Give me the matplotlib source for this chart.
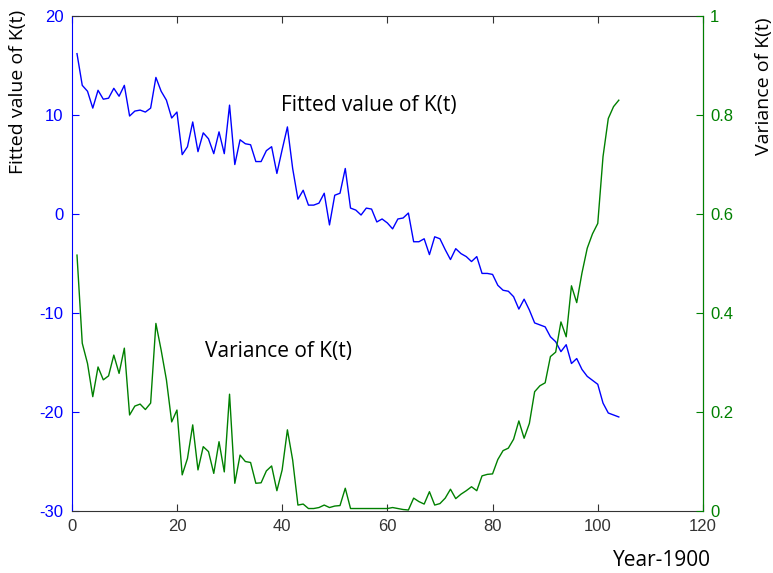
import matplotlib.pyplot as plt

plt.rcParams['axes.unicode_minus'] = False

# years since 1900
years = list(range(1, 105))

# fitted value of K(t), left axis
fitted = [16.2, 13.0, 12.4, 10.7, 12.5, 11.6, 11.7, 12.7, 11.9, 13.0,
          9.9, 10.4, 10.5, 10.3, 10.7, 13.8, 12.4, 11.5, 9.7, 10.3,
          6.0, 6.8, 9.3, 6.3, 8.2, 7.6, 6.1, 8.3, 6.1, 11.0,
          5.0, 7.5, 7.1, 7.0, 5.3, 5.3, 6.4, 6.8, 4.1, 6.5,
          8.8, 4.6, 1.5, 2.4, 0.9, 0.9, 1.1, 2.1, -1.1, 1.9,
          2.1, 4.6, 0.6, 0.4, -0.1, 0.6, 0.5, -0.8, -0.5, -0.9,
          -1.5, -0.5, -0.4, 0.1, -2.8, -2.8, -2.5, -4.1, -2.3, -2.5,
          -3.6, -4.6, -3.5, -4.0, -4.3, -4.8, -4.3, -6.0, -6.0, -6.1,
          -7.2, -7.7, -7.8, -8.35, -9.6, -8.6, -9.7, -11.0, -11.2, -11.4,
          -12.4, -12.9, -13.9, -13.2, -15.1, -14.6, -15.7, -16.4, -16.8, -17.2,
          -19.1, -20.1, -20.3, -20.5]

# variance of K(t), right axis
variance = [0.517, 0.339, 0.298, 0.231, 0.291, 0.265, 0.273, 0.315, 0.278, 0.329,
            0.194, 0.212, 0.216, 0.205, 0.218, 0.379, 0.325, 0.265, 0.180, 0.204,
            0.073, 0.106, 0.174, 0.083, 0.130, 0.120, 0.076, 0.140, 0.079, 0.236,
            0.056, 0.113, 0.100, 0.098, 0.056, 0.057, 0.081, 0.091, 0.041, 0.083,
            0.164, 0.103, 0.012, 0.014, 0.005, 0.005, 0.007, 0.012, 0.007, 0.010,
            0.011, 0.046, 0.005, 0.005, 0.005, 0.005, 0.005, 0.005, 0.005, 0.005,
            0.007, 0.005, 0.003, 0.002, 0.026, 0.019, 0.014, 0.039, 0.012, 0.015,
            0.026, 0.044, 0.025, 0.034, 0.041, 0.049, 0.041, 0.071, 0.074, 0.075,
            0.104, 0.122, 0.127, 0.145, 0.182, 0.147, 0.177, 0.241, 0.253, 0.259,
            0.312, 0.321, 0.382, 0.352, 0.455, 0.421, 0.481, 0.531, 0.560, 0.581,
            0.716, 0.793, 0.817, 0.830]

blue = '#0000ff'
green = '#008000'
tickfont = 'Liberation Sans'
labelfont = 'Open Sans'

fig = plt.figure(figsize=(7.73, 5.73), dpi=100)
ax = fig.add_axes([0.0928, 0.1082, 0.8166, 0.8638])
ax2 = ax.twinx()

ax.plot(years, fitted, color=blue, lw=1)
ax2.plot(years, variance, color=green, lw=1)

ax.set_xlim(0, 120)
ax.set_ylim(-30, 20)
ax2.set_ylim(0, 1)
ax.set_xticks(range(0, 121, 20))
ax.set_yticks(range(-30, 21, 10))
ax2.set_yticks([0, 0.2, 0.4, 0.6, 0.8, 1])
ax2.set_yticklabels(['0', '0.2', '0.4', '0.6', '0.8', '1'])

ax.tick_params(axis='x', direction='in', length=5, top=True, colors='#333333',
               labelsize=12, pad=6)
ax.tick_params(axis='y', direction='in', length=5, colors=blue, labelsize=12, pad=6)
ax2.tick_params(axis='y', direction='in', length=5, colors=green, labelsize=12, pad=5)
for lab in ax.get_xticklabels() + ax.get_yticklabels() + ax2.get_yticklabels():
    lab.set_family(tickfont)

ax.spines['left'].set_color(blue)
ax.spines['bottom'].set_color('#333333')
ax.spines['top'].set_color('#333333')
ax2.spines['right'].set_color(green)
ax2.spines['left'].set_visible(False)
ax2.spines['top'].set_visible(False)
ax2.spines['bottom'].set_visible(False)

# axis titles sit near the top corners, as in the original
fig.text(18 / 773, 1 - 92 / 573, 'Fitted value of K(t)', fontsize=14, family=labelfont,
         rotation=90, ha='center', va='center')
fig.text(764 / 773, 1 - 86 / 573, 'Variance of K(t)', fontsize=14, family=labelfont,
         rotation=90, ha='center', va='center')
fig.text(662 / 773, 1 - 560 / 573, 'Year-1900', fontsize=15, family=labelfont,
         ha='center', va='center')

ax.text(39.7, 11.0, 'Fitted value of K(t)', fontsize=15, family=labelfont, va='center')
ax.text(25.4, -13.9, 'Variance of K(t)', fontsize=15, family=labelfont, va='center')

fig.savefig('out.png', dpi=100)
